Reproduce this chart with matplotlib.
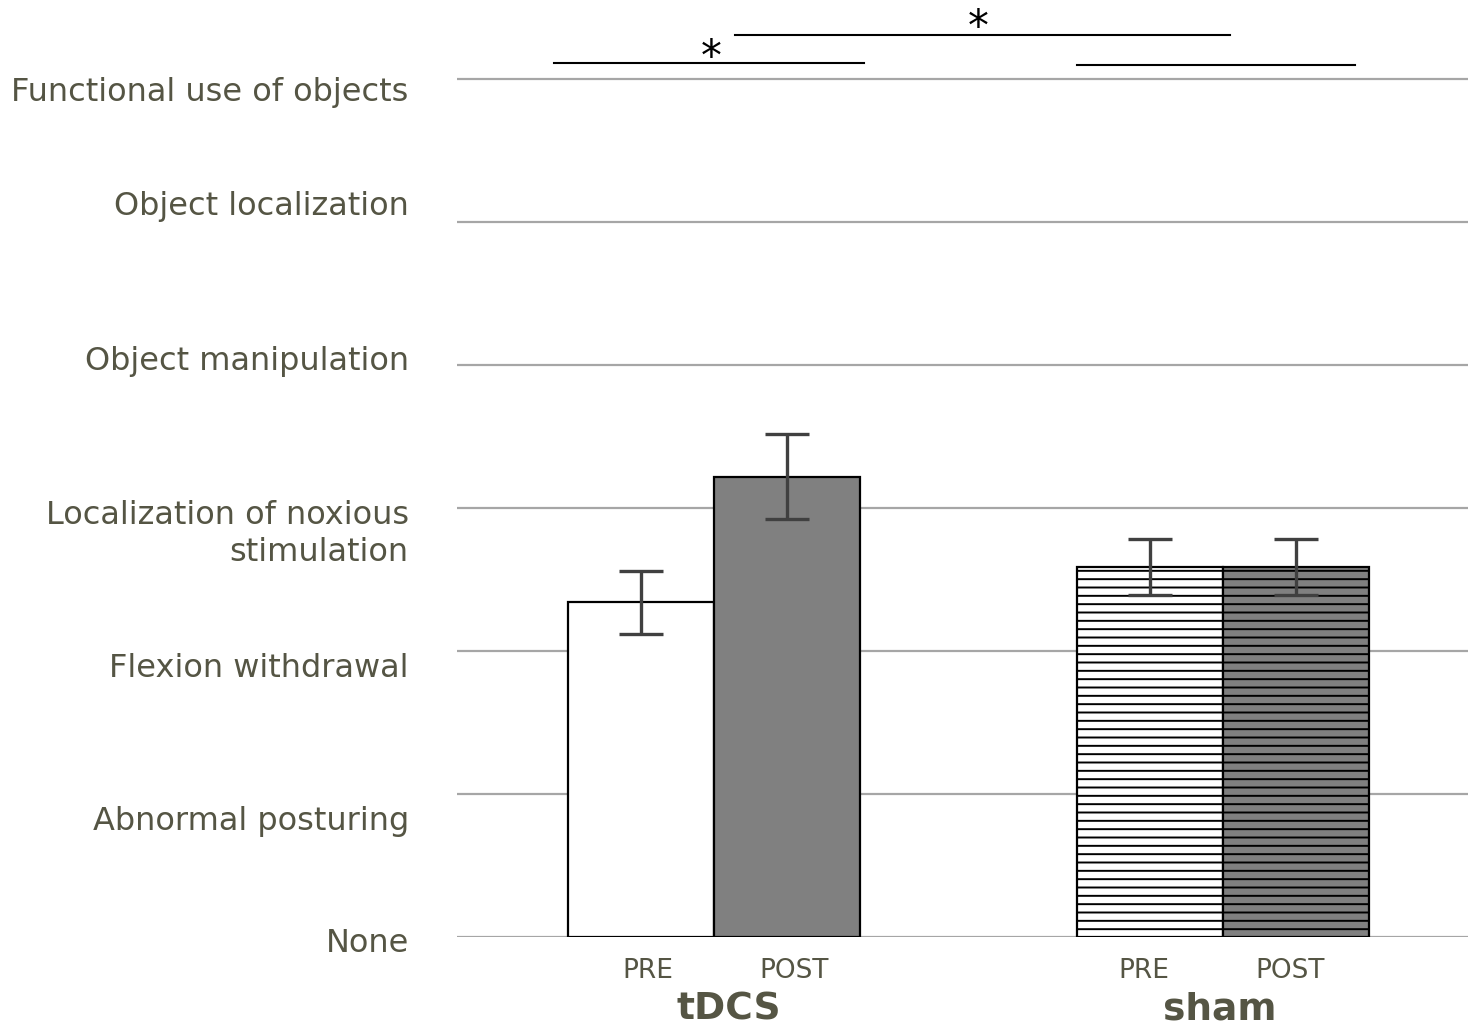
import matplotlib.pyplot as plt

# levels on the y scale
levels = ['None', 'Abnormal posturing', 'Flexion withdrawal',
          'Localization of noxious\nstimulation', 'Object manipulation',
          'Object localization', 'Functional use of objects']
# where each level name sits (Excel put them slightly off the gridlines)
level_text_y = [-0.045, 0.81, 1.88, 2.82, 4.025, 5.105, 5.905]

groups = ['tDCS', 'sham']
phases = ['PRE', 'POST']
means = [[2.34, 3.22], [2.59, 2.59]]
errs = [[0.22, 0.30], [0.195, 0.195]]

txt_col = '#555544'
grid_col = '#a6a6a6'
err_col = '#404040'


def main():
    plt.rcParams['hatch.linewidth'] = 1.4
    fig = plt.figure(figsize=(14.68, 10.26), dpi=100)
    ax = fig.add_axes([457 / 1468, 89 / 1026, 1011 / 1468, 929.5 / 1026])

    ax.set_xlim(0, 6.925)
    ax.set_ylim(0, 6.5)

    for i in range(len(levels)):
        ax.axhline(i, color=grid_col, lw=1.6, zorder=0)
        ax.text(-0.33, level_text_y[i], levels[i], ha='right', va='center',
                fontsize=23, color=txt_col, linespacing=1.25,
                clip_on=False)

    centres = [1.76, 5.247]
    faces = ['white', '#808080']
    lab_shift = [0.05, -0.04]      # PRE/POST label nudge per group
    grp_shift = [0.10, -0.02]      # group name nudge
    for g in range(len(groups)):
        for p in range(len(phases)):
            x = centres[g] + (p - 0.5)
            ax.bar(x, means[g][p], width=1.0, color=faces[p],
                   edgecolor='black', linewidth=1.6,
                   hatch='--' if groups[g] == 'sham' else None, zorder=2)
            ax.errorbar(x, means[g][p], yerr=errs[g][p], fmt='none',
                        ecolor=err_col, elinewidth=2.4, capsize=16,
                        capthick=2.4, zorder=3)
            ax.text(x + lab_shift[g], -0.24, phases[p], ha='center',
                    va='center', fontsize=19, color=txt_col, clip_on=False)
        ax.text(centres[g] + grp_shift[g], -0.51, groups[g], ha='center',
                va='center', fontsize=27, fontweight='bold', color=txt_col,
                clip_on=False)

    # significance lines
    ax.plot([0.664, 2.788], [6.11, 6.11], color='black', lw=1.5, clip_on=False)
    ax.plot([1.904, 5.295], [6.31, 6.31], color='black', lw=1.5, clip_on=False)
    ax.plot([4.247, 6.151], [6.10, 6.10], color='black', lw=1.5, clip_on=False)
    ax.text(1.74, 6.06, '*', ha='center', va='baseline', fontsize=30,
            clip_on=False)
    ax.text(3.57, 6.27, '*', ha='center', va='baseline', fontsize=30,
            clip_on=False)

    ax.set_xticks([])
    ax.set_yticks([])
    for s in ax.spines.values():
        s.set_visible(False)

    fig.savefig('out.png', dpi=100)


if __name__ == "__main__":
    main()
